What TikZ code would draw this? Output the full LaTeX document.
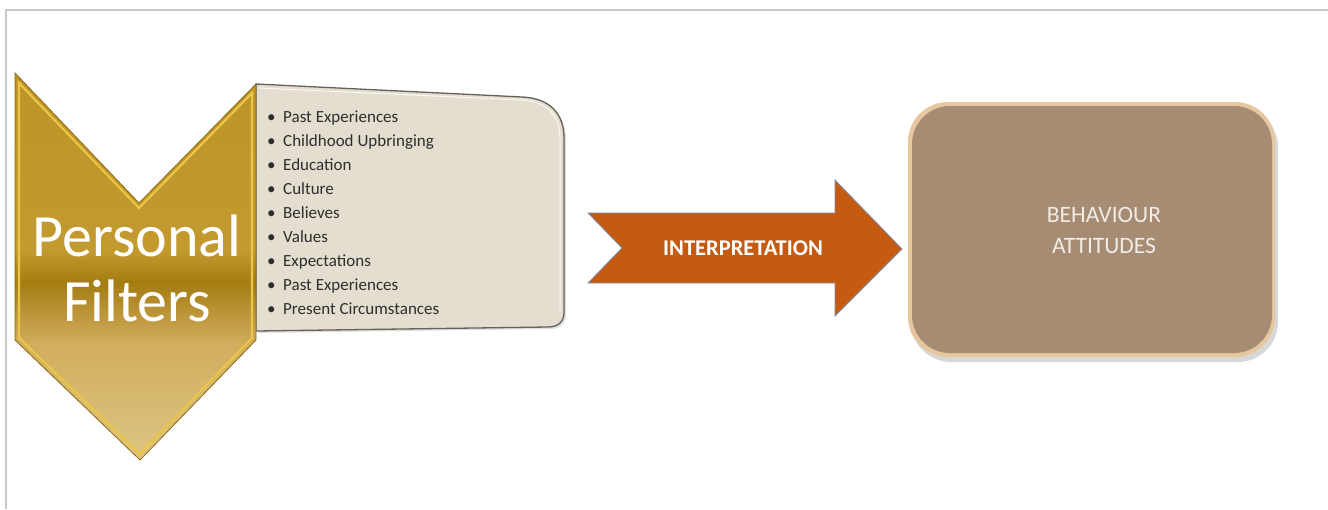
\documentclass[tikz,border=0pt]{standalone}
\usepackage{fontspec}
\setmainfont{Carlito}
\usetikzlibrary{shadows}
\definecolor{framegray}{HTML}{C8C8C8}
\definecolor{goldA}{HTML}{DCC584}
\definecolor{goldB}{HTML}{D2AE5E}
\definecolor{goldC}{HTML}{A47C12}
\definecolor{goldD}{HTML}{C39A30}
\definecolor{goldE}{HTML}{BE9428}
\definecolor{goldedge}{HTML}{E9C646}
\definecolor{golddark}{HTML}{8C6A14}
\definecolor{listfill}{HTML}{E3DECF}
\definecolor{listedge}{HTML}{66625A}
\definecolor{listtext}{HTML}{2E2E2E}
\definecolor{arrowfill}{HTML}{C55A11}
\definecolor{arrowedge}{HTML}{7F8DB0}
\definecolor{boxfill}{HTML}{A68C73}
\definecolor{boxrim}{HTML}{E6C7A0}
\definecolor{boxtext}{HTML}{F2ECE6}
\pgfdeclareverticalshading{goldshade}{100bp}{%
  color(0bp)=(goldA); color(25bp)=(goldA); color(40bp)=(goldB);
  color(48bp)=(goldC); color(52bp)=(goldD); color(75bp)=(goldE); color(100bp)=(goldE)}
\tikzset{
  listitem/.style={anchor=base west, inner sep=0pt, text=listtext,
    font=\fontsize{17}{18}\selectfont},
  bigtext/.style={text=white, align=center, inner sep=0pt,
    font=\fontsize{60}{65}\selectfont},
}
\begin{document}
\begin{tikzpicture}[x=1pt,y=-1pt]
\useasboundingbox (0,0) rectangle (1328,509);
\fill[white] (0,0) rectangle (1328,509);
\draw[framegray, line width=1.2pt] (6,509) -- (6,10) -- (1328,10);

% list box
\path[fill=listfill, draw=listedge, line width=1.3pt,
      drop shadow={shadow xshift=2pt, shadow yshift=-2pt, opacity=0.25}]
  (256,84) -- (522,97) .. controls (548,98) and (564,112) .. (564,138)
  -- (564,312) .. controls (564,322) and (558,327) .. (548,327)
  -- (256,331) -- cycle;
\draw[white, line width=1pt, opacity=0.8]
  (259,88) -- (521,100) .. controls (545,101) and (560,114) .. (560,138)
  -- (560,311);
\foreach \t [count=\i from 0] in {Past Experiences, Childhood Upbringing,
   Education, Culture, Believes, Values, Expectations, Past Experiences,
   Present Circumstances}{
  \node[listitem] (item\i) at (267,122+24.1*\i) {\makebox[16pt][l]{\textbullet}\t};
}

% chevron
\path[shading=goldshade]
  (15,73) -- (139,203) -- (256,84) -- (256,340) -- (140,460) -- (15,340) -- cycle;
\draw[goldedge, line width=2.2pt, line join=miter]
  (19,83) -- (139,208) -- (252,93) -- (252,338) -- (140,454) -- (19,338) -- cycle;
\draw[golddark, line width=0.8pt]
  (15,73) -- (139,203) -- (256,84) -- (256,340) -- (140,460) -- (15,340) -- cycle;
\node[bigtext] (pf) at (137,268) {Personal\\Filters};

% arrow
\path[fill=arrowfill, draw=arrowedge, line width=0.8pt, line join=miter]
  (588,213) -- (835,213) -- (835,180) -- (902,249) -- (835,316) -- (835,283)
  -- (588,283) -- (622,248) -- cycle;
\node[text=white, inner sep=0pt, font=\fontsize{22.5}{24}\selectfont\bfseries]
  (interp) at (743,248) {INTERPRETATION};

% right box
\path[fill=boxrim, rounded corners=40pt,
      drop shadow={shadow xshift=3pt, shadow yshift=-5pt, opacity=0.3}]
  (908,102) rectangle (1275,357);
\path[fill=boxfill, rounded corners=38pt] (912,106) rectangle (1272,353);
\node[text=boxtext, align=center, inner sep=0pt,
      font=\fontsize{23.5}{31}\selectfont] (beh) at (1104,230) {BEHAVIOUR\\ATTITUDES};
\end{tikzpicture}
\end{document}
